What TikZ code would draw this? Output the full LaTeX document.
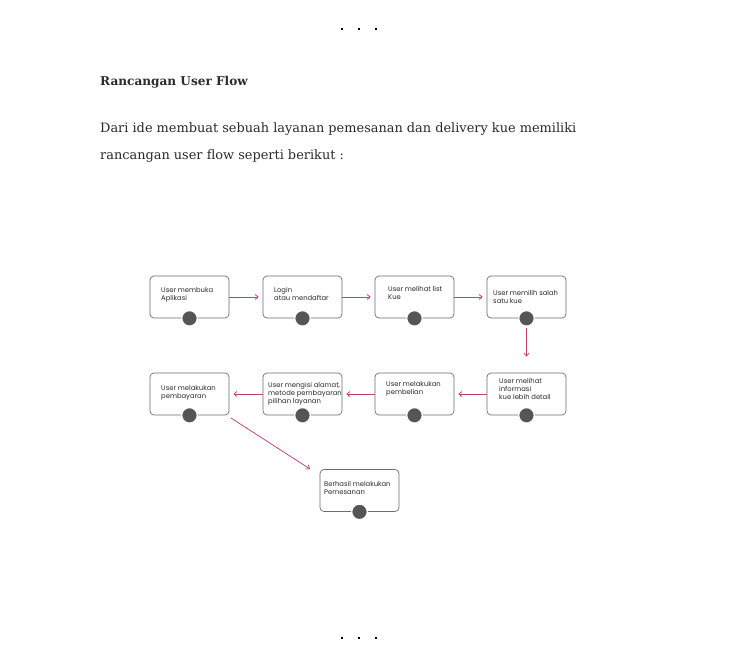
\documentclass[tikz,border=0pt]{standalone}
\usepackage{fontspec}
\setmainfont{DejaVu Serif}
\newfontfamily\boxfont{Poppins}
\usetikzlibrary{arrows.meta}
\definecolor{arr}{HTML}{C2426E}
\definecolor{dot}{HTML}{555555}
\definecolor{edge}{HTML}{6E6E6E}
\definecolor{ink}{HTML}{2B2B2B}
\tikzset{
  stepbox/.style={draw=edge,line width=0.7pt,rounded corners=4pt,minimum width=79pt,minimum height=42pt,inner sep=0pt,fill=white},
  knob/.style={circle,fill=dot,draw=white,line width=1.2pt,minimum size=15.5pt,inner sep=0pt},
  lbl/.style={anchor=north west,align=left,inner sep=0pt,text=ink,font=\boxfont\fontsize{6.8pt}{8pt}\selectfont},
  flow/.style={draw=arr,line width=0.75pt,-{Straight Barb[length=3pt,width=5pt]}},
  sq/.style={fill=black,minimum size=2pt,inner sep=0pt},
  prose/.style={anchor=base west,inner sep=0pt,text=ink,font=\fontsize{12.9pt}{16pt}\selectfont}
}
\begin{document}
\begin{tikzpicture}[x=1pt,y=-1pt]
\useasboundingbox[fill=white] (0,0) rectangle (736,660);
% dots
\node[sq] (t1) at (342,29) {};
\node[sq] (t2) at (359,29) {};
\node[sq] (t3) at (376,29) {};
\node[sq] (u1) at (342,638) {};
\node[sq] (u2) at (359,638) {};
\node[sq] (u3) at (376,638) {};
% heading and paragraph
\node[prose,font=\bfseries\fontsize{12.1pt}{16pt}\selectfont] (h) at (100,86) {Rancangan User Flow};
\node[prose] (p1) at (100,133) {Dari ide membuat sebuah layanan pemesanan dan delivery kue memiliki};
\node[prose] (p2) at (100,160) {rancangan user flow seperti berikut :};
% boxes
\node[stepbox] (b1) at (189.5,297) {};
\node[stepbox] (b2) at (302.5,297) {};
\node[stepbox] (b3) at (414.5,297) {};
\node[stepbox] (b4) at (526.5,297) {};
\node[stepbox] (b5) at (526.5,394) {};
\node[stepbox] (b6) at (414.5,394) {};
\node[stepbox] (b7) at (302.5,394) {};
\node[stepbox] (b8) at (189.5,394) {};
\node[stepbox] (b9) at (359.5,490.5) {};
% knobs
\foreach \b in {b1,b2,b3,b4,b5,b6,b7,b8,b9}{\node[knob] (k\b) at (\b.south) {};}
% labels
\node[lbl] (l1) at (161,287) {User membuka\\Aplikasi};
\node[lbl] (l2) at (274,287) {Login\\atau mendaftar};
\node[lbl] (l3) at (388,286) {User melihat list\\Kue};
\node[lbl] (l4) at (493,290) {User memilih salah\\satu kue};
\node[lbl] (l5) at (499,378) {User melihat\\informasi\\kue lebih detail};
\node[lbl] (l6) at (386,381) {User melakukan\\pembelian};
\node[lbl] (l7) at (268,382) {User mengisi alamat,\\metode pembayaran\\pilihan layanan};
\node[lbl] (l8) at (161,385) {User melakukan\\pembayaran};
\node[lbl] (l9) at (324,481) {Berhasil melakukan\\Pemesanan};
% connectors
\draw[flow,shorten >=4pt] (b1.east) -- (b2.west);
\draw[flow,shorten >=4pt] (b2.east) -- (b3.west);
\draw[flow,shorten >=4pt] (b3.east) -- (b4.west);
\draw[flow,shorten <=1pt,shorten >=16pt] (kb4.south) -- (b5.north);
\draw[flow,shorten >=4pt] (b5.west) -- (b6.east);
\draw[flow,shorten >=4pt] (b6.west) -- (b7.east);
\draw[flow,shorten >=4pt] (b7.west) -- (b8.east);
\coordinate (d1) at (231,418);
\coordinate (d2) at (310,469);
\draw[flow] (d1) -- (d2);
\end{tikzpicture}
\end{document}
